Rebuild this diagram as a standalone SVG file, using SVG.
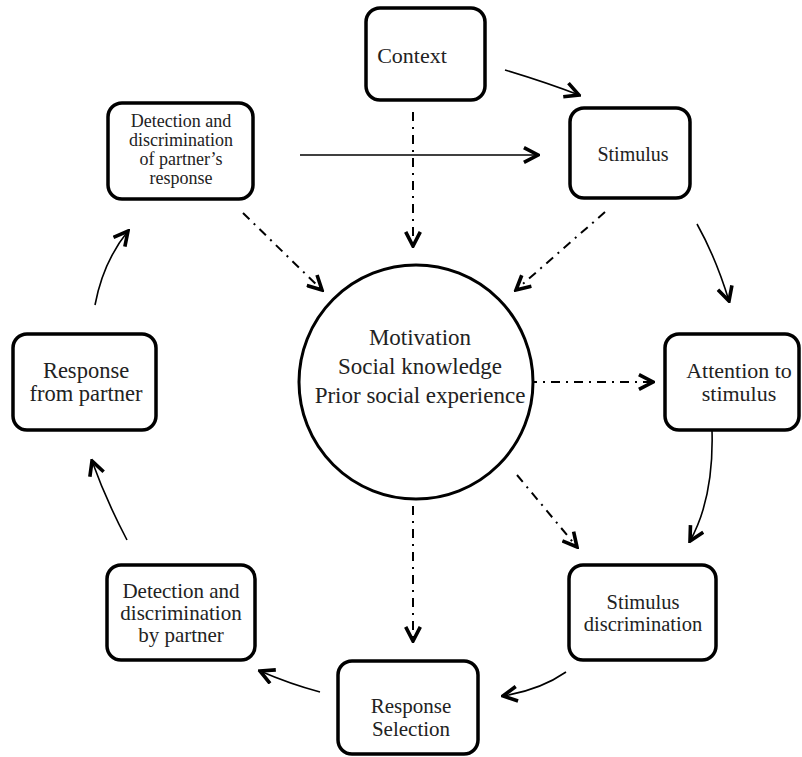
<svg xmlns="http://www.w3.org/2000/svg" width="802" height="757" viewBox="0 0 802 757">
<defs>
<marker id="ah" viewBox="0 0 16 16" refX="14" refY="8" markerWidth="18" markerHeight="18" markerUnits="userSpaceOnUse" orient="auto">
<path d="M1.5,1.5 L14,8 L1.5,14.5" fill="none" stroke="#000" stroke-width="3.2" stroke-linejoin="miter"/>
</marker>
<style>
.box{fill:#fff;stroke:#000;stroke-width:3.5}
.t{font-family:"Liberation Serif","Times New Roman",serif;fill:#222;text-anchor:middle}
.solid{fill:none;stroke:#000;stroke-width:1.6;marker-end:url(#ah)}
.dd{fill:none;stroke:#000;stroke-width:2;stroke-dasharray:9,6,2,6;marker-end:url(#ah)}
</style>
</defs>
<rect width="802" height="757" fill="#fff"/>
<g id="connectors">
<path class="solid" d="M505,70 Q545,82 579,95"/>
<path class="solid" d="M300,155 L538,155"/>
<path class="dd" d="M413,112 L413,246"/>
<path class="dd" d="M243,213 L322,290"/>
<path class="dd" d="M605,212 L516,290"/>
<path class="solid" d="M697,224 Q716,258 729,301"/>
<path class="dd" d="M528,382 L653,382"/>
<path class="solid" d="M712,430 Q714,498 690,541"/>
<path class="dd" d="M517,475 L577,547"/>
<path class="dd" d="M413,506 L413,641"/>
<path class="solid" d="M566,672 Q540,690 503,696"/>
<path class="solid" d="M320,692 Q290,684 260,671"/>
<path class="solid" d="M127,540 Q106,500 92,461"/>
<path class="solid" d="M95,305 Q103,262 128,231"/>
</g>
<g id="context">
<rect class="box" x="366" y="8" width="119" height="92" rx="14"/>
<text class="t" x="412" y="63" font-size="22">Context</text>
</g>
<g id="stimulus">
<rect class="box" x="570" y="108" width="120" height="90" rx="14"/>
<text class="t" x="633" y="161" font-size="20">Stimulus</text>
</g>
<g id="detection-response">
<rect class="box" x="108" y="103" width="145" height="96" rx="14"/>
<text class="t" font-size="18"><tspan x="181" y="127">Detection and</tspan><tspan x="181" y="146">discrimination</tspan><tspan x="181" y="165">of partner’s</tspan><tspan x="181" y="184">response</tspan></text>
</g>
<g id="response-partner">
<rect class="box" x="13" y="334" width="143" height="96" rx="14"/>
<text class="t" font-size="22.5"><tspan x="86" y="378">Response</tspan><tspan x="86" y="401">from partner</tspan></text>
</g>
<g id="center">
<circle cx="416" cy="382" r="117" fill="#fff" stroke="#000" stroke-width="3"/>
<text class="t" font-size="23"><tspan x="420" y="345">Motivation</tspan><tspan x="420" y="374">Social knowledge</tspan><tspan x="420" y="403">Prior social experience</tspan></text>
</g>
<g id="attention">
<rect class="box" x="665" y="334" width="134" height="96" rx="14"/>
<text class="t" font-size="22"><tspan x="739" y="378">Attention to</tspan><tspan x="739" y="401">stimulus</tspan></text>
</g>
<g id="stim-disc">
<rect class="box" x="569" y="565" width="147" height="95" rx="14"/>
<text class="t" font-size="20.5"><tspan x="643" y="609">Stimulus</tspan><tspan x="643" y="631">discrimination</tspan></text>
</g>
<g id="resp-sel">
<rect class="box" x="338" y="661" width="140" height="93" rx="14"/>
<text class="t" font-size="21"><tspan x="411" y="713">Response</tspan><tspan x="411" y="736">Selection</tspan></text>
</g>
<g id="detection-partner">
<rect class="box" x="107" y="565" width="148" height="95" rx="14"/>
<text class="t" font-size="21"><tspan x="181" y="598">Detection and</tspan><tspan x="181" y="620">discrimination</tspan><tspan x="181" y="642">by partner</tspan></text>
</g>
</svg>
